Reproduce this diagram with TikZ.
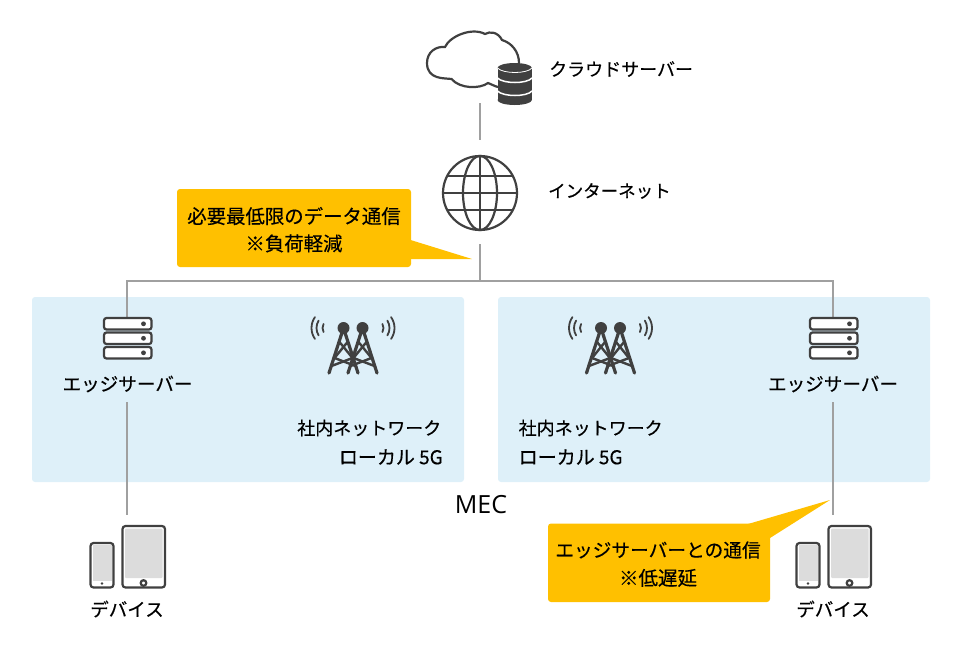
\documentclass[tikz,border=0pt]{standalone}
\usepackage{fontspec}
\setmainfont{Noto Sans CJK JP}[FakeBold=0.4]
\newfontfamily\latinfont{Open Sans}
\usetikzlibrary{calc}
\usetikzlibrary{positioning}
\definecolor{PanelBlue}{RGB}{222,240,249}
\definecolor{CalloutGold}{RGB}{255,192,0}
\definecolor{IconDark}{RGB}{64,64,64}
\definecolor{LinkGray}{RGB}{160,160,160}
\definecolor{ScreenGray}{RGB}{220,220,220}
\tikzset{
	label/.style={font=\fontsize{18}{18}\selectfont, inner sep=0pt, text=black},
	panel/.style={fill=PanelBlue, rounded corners=3pt},
	callout/.style={fill=CalloutGold, rounded corners=3pt},
	link/.style={draw=LinkGray, line width=1.5pt},
	icon/.style={draw=IconDark, line width=2.2pt},
	pics/edgeserver/.style={code={
		\foreach \y in {0,-14.5,-29} {
			\draw [icon, fill=white, rounded corners=2.5pt] (-23.5,\y-1) rectangle (24,\y-12.5);
			\fill [IconDark] (16,\y-6.8) circle [radius=2.4];
		}
	}},
	pics/antenna/.style={code={
		\foreach \x in {0,19} {
			\fill [IconDark] (\x,0) circle [radius=6];
			\draw [icon, line width=3.2pt, line cap=round] (\x-14.5,-45) -- (\x,0) -- (\x+14.5,-45);
			\draw [icon, line width=2.4pt] (\x-4,-14) -- (\x+9,-30) -- (\x-12,-38);
			\draw [icon, line width=2.4pt] (\x+4,-14) -- (\x-9,-30) -- (\x+12,-38);
		}
		\foreach \r/\a in {8/30,14/32,19/35} {
			\draw [icon, line width=1.8pt, line cap=round] ($(-13,0)+(180-\a:\r)$) arc [start angle=180-\a, end angle=180+\a, radius=\r];
			\draw [icon, line width=1.8pt, line cap=round] ($(32,0)+(-\a:\r)$) arc [start angle=-\a, end angle=\a, radius=\r];
		}
	}},
	pics/devices/.style={code={
		% phone
		\draw [icon, fill=white, rounded corners=3pt] (-36.5,-17) rectangle (-13.5,-61.5);
		\fill [ScreenGray] (-34,-18.5) rectangle (-15.5,-55);
		\fill [IconDark] (-25,-57.5) circle [radius=1.4];
		% tablet
		\draw [icon, fill=white, rounded corners=3pt] (-4.5,0) rectangle (38,-61.5);
		\fill [ScreenGray, rounded corners=1pt] (-2,-2.5) rectangle (35.5,-52);
		\draw [icon] (16.5,-57) circle [radius=2.8];
	}}
}

\begin{document}
\begin{tikzpicture}[x=1pt,y=1pt]
	\useasboundingbox (0,0) rectangle (960,-648);

	% panels
	\fill [panel] (32,-297) rectangle (464,-482);
	\fill [panel] (498,-297) rectangle (930,-482);

	% connectors
	\coordinate (cloudfoot) at (480,-103);
	\coordinate (globehead) at (480,-140);
	\coordinate (globefoot) at (480,-244);
	\coordinate (branch) at (480,-281);
	\coordinate (branchL) at (127,-281);
	\coordinate (branchR) at (833,-281);
	\coordinate (srvtopL) at (127,-318);
	\coordinate (srvtopR) at (833,-318);
	\coordinate (srvfootL) at (127,-402);
	\coordinate (srvfootR) at (833,-402);
	\coordinate (devtopL) at (127,-515);
	\coordinate (devtopR) at (833,-515);
	\draw [link] (cloudfoot) -- (globehead);
	\draw [link] (globefoot) -- (branch);
	\draw [link] (srvtopL) -- (branchL) -- (branchR) -- (srvtopR);
	\draw [link] (srvfootL) -- (devtopL);
	\draw [link] (srvfootR) -- (devtopR);

	% cloud and database
	\draw [icon] (498,-87) .. controls (494,-86) and (491,-84) .. (488,-83)
		.. controls (480,-89) and (460,-89) .. (451.5,-79)
		.. controls (445,-78) and (427,-80) .. (427,-63)
		.. controls (427,-52) and (436,-46) .. (445,-47)
		.. controls (450,-36) and (472,-27) .. (485,-34)
		.. controls (490,-31) and (498,-32) .. (502,-40)
		.. controls (512,-43) and (519,-52) .. (519,-63);
	\fill [IconDark] (497.5,-68) rectangle (532,-100);
	\fill [IconDark] (514.7,-68) ellipse [x radius=17.2, y radius=5];
	\fill [IconDark] (514.7,-100) ellipse [x radius=17.2, y radius=5];
	\draw [white, line width=0.8pt] (497.5,-68) .. controls (503,-74) and (527,-74) .. (532,-68);
	\draw [white, line width=1.5pt] (497.5,-78) .. controls (503,-84) and (527,-84) .. (532,-78);
	\draw [white, line width=1.5pt] (497.5,-91) .. controls (503,-97) and (527,-97) .. (532,-91);
	\node [label, anchor=west] (cloudlabel) at (549,-69) {クラウドサーバー};

	% globe
	\node [circle, icon, minimum size=74pt, inner sep=0pt] (globe) at (480,-193) {};
	\draw [icon] (480,-193) ellipse [x radius=17, y radius=37];
	\draw [icon] (globe.north) -- (globe.south);
	\draw [icon] (globe.west) -- (globe.east);
	\draw [icon] (447,-176) -- (513,-176);
	\draw [icon] (447,-210) -- (513,-210);
	\node [label, anchor=west, font=\fontsize{17.5}{18}\selectfont] (netlabel) at (548,-191) {インターネット};

	% top callout
	\fill [callout] (177,-189) rectangle (411,-267);
	\fill [CalloutGold] (409,-239.5) -- (472,-259) -- (409,-259) -- cycle;
	\node [label, font=\fontsize{19.4}{20}\selectfont] (noteA) at (294,-216) {必要最低限のデータ通信};
	\node [label, font=\fontsize{19.4}{20}\selectfont, below=9pt of noteA] (noteAb) {※負荷軽減};

	% left panel
	\pic at (127.5,-317) {edgeserver};
	\node [label, font=\fontsize{18.6}{18}\selectfont] (srvlabelL) at (127.5,-384) {エッジサーバー};
	\pic at (343.5,-328) {antenna};
	\node [label, anchor=east] (lanL) at (441.5,-428) {社内ネットワーク};
	\node [label, anchor=east, font=\fontsize{19}{18}\selectfont] (locL) at (443,-457) {ローカル 5G};

	% right panel
	\pic at (833.5,-317) {edgeserver};
	\node [label, font=\fontsize{18.6}{18}\selectfont] (srvlabelR) at (833,-384) {エッジサーバー};
	\pic at (601,-328) {antenna};
	\node [label, anchor=west] (lanR) at (518.5,-428) {社内ネットワーク};
	\node [label, anchor=west, font=\fontsize{19}{18}\selectfont] (locR) at (518.5,-457) {ローカル 5G};

	\node [label, font=\latinfont\fontsize{25}{25}\selectfont] (mec) at (481,-505) {MEC};

	% devices
	\pic at (127,-526) {devices};
	\node [label, font=\fontsize{18.5}{18}\selectfont] (devlabelL) at (127,-609) {デバイス};
	\pic at (833,-526) {devices};
	\node [label, font=\fontsize{18.5}{18}\selectfont] (devlabelR) at (833,-609) {デバイス};

	% bottom callout
	\fill [callout] (548,-523.5) rectangle (770,-602);
	\fill [CalloutGold] (748,-524) -- (830,-500) -- (770,-538) -- (748,-538) -- cycle;
	\node [label, font=\fontsize{18.7}{18}\selectfont] (noteB) at (658,-550) {エッジサーバーとの通信};
	\node [label, font=\fontsize{19.5}{18}\selectfont, below=10pt of noteB] (noteBb) {※低遅延};
\end{tikzpicture}
\end{document}
